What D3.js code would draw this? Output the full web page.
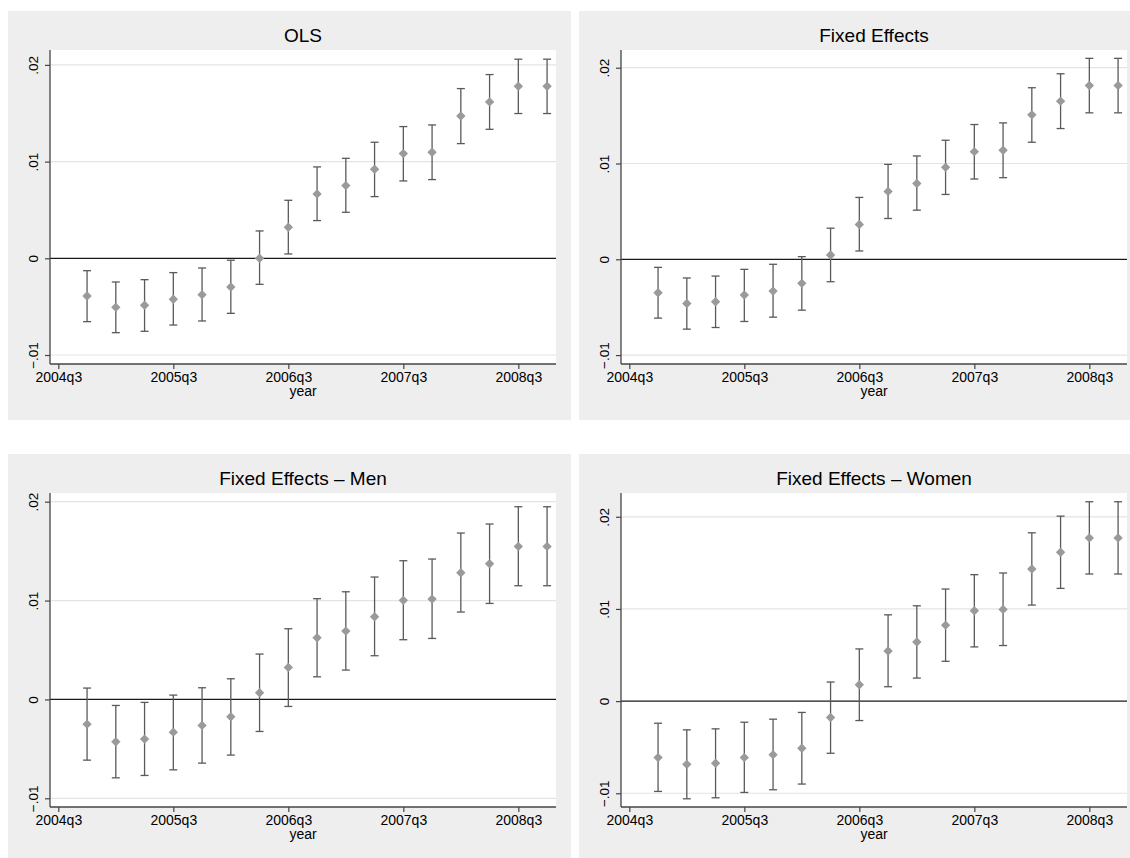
<!DOCTYPE html>
<html>
<head>
<meta charset="utf-8">
<script src="https://cdnjs.cloudflare.com/ajax/libs/d3/7.8.5/d3.min.js"></script>
<style>
  body { margin: 0; background: #fff; }
  text { font-family: "Liberation Sans", Arial, sans-serif; fill: #000; }
</style>
</head>
<body>
<div id="chart"></div>
<script>
(function() {
var WIDTH = 1130;
var HEIGHT = 858;

// quarters 2004q4 .. 2008q4, index 0 = 2004q3
var quarters = [1, 2, 3, 4, 5, 6, 7, 8, 9, 10, 11, 12, 13, 14, 15, 16, 17];
var xTicks = [0, 4, 8, 12, 16];
var xTickLabels = ['2004q3', '2005q3', '2006q3', '2007q3', '2008q3'];
var yTicks = [-0.01, 0, 0.01, 0.02];
var yTickLabels = ['\u2212.01', '0', '.01', '.02'];

var titles = ['OLS', 'Fixed Effects', 'Fixed Effects \u2013 Men', 'Fixed Effects \u2013 Women'];

// point estimates and 95% bounds
var olsCoef = [-0.0039, -0.00507, -0.00486, -0.00424, -0.00376, -0.00297, 0.0000, 0.00321, 0.00666, 0.00752, 0.00921, 0.01083, 0.01097, 0.01472, 0.01617, 0.01779, 0.01779];
var olsHi   = [-0.00128, -0.00245, -0.00221, -0.00148, -0.0010, -0.0002, 0.00283, 0.0060, 0.00945, 0.01034, 0.0120, 0.01362, 0.01379, 0.01755, 0.0190, 0.02059, 0.02059];
var olsLo   = [-0.00655, -0.00769, -0.00755, -0.0069, -0.00648, -0.00569, -0.00269, 0.00045, 0.0039, 0.00476, 0.00638, 0.0080, 0.00814, 0.01186, 0.01334, 0.01497, 0.01497];

var feCoef = [-0.00349, -0.00461, -0.00443, -0.00373, -0.00332, -0.00251, 0.00045, 0.00363, 0.00709, 0.00792, 0.0096, 0.01124, 0.01138, 0.01508, 0.01651, 0.01815, 0.01815];
var feHi   = [-0.00084, -0.00195, -0.00175, -0.00105, -0.00052, 0.00028, 0.00325, 0.00646, 0.00991, 0.01079, 0.01243, 0.01407, 0.01424, 0.01791, 0.01937, 0.02098, 0.02098];
var feLo   = [-0.00614, -0.00729, -0.00712, -0.00649, -0.00604, -0.00531, -0.00234, 0.00087, 0.00426, 0.00513, 0.00677, 0.00838, 0.00852, 0.01222, 0.01365, 0.01529, 0.01529];

var menCoef = [-0.0025, -0.00428, -0.00401, -0.00331, -0.00263, -0.00175, 0.00067, 0.00324, 0.00624, 0.00691, 0.00836, 0.01002, 0.01015, 0.01282, 0.01373, 0.01548, 0.01548];
var menHi   = [0.00115, -0.00061, -0.0003, 0.00044, 0.00118, 0.00209, 0.00459, 0.00715, 0.01019, 0.01089, 0.01238, 0.01403, 0.0142, 0.01683, 0.01774, 0.01949, 0.01949];
var menLo   = [-0.00614, -0.00793, -0.00769, -0.00712, -0.00644, -0.00563, -0.00324, -0.00071, 0.00229, 0.00297, 0.00442, 0.00604, 0.00617, 0.00884, 0.00971, 0.0115, 0.0115];

var womenCoef = [-0.00613, -0.00686, -0.00675, -0.00613, -0.00581, -0.00512, -0.00178, 0.00178, 0.00544, 0.00642, 0.00824, 0.0098, 0.00995, 0.01434, 0.01615, 0.01771, 0.01771];
var womenHi   = [-0.0024, -0.00312, -0.00301, -0.00229, -0.00196, -0.00123, 0.00207, 0.00566, 0.00936, 0.01034, 0.01216, 0.01372, 0.0139, 0.01826, 0.02007, 0.02163, 0.02163];
var womenLo   = [-0.0098, -0.0106, -0.01049, -0.00991, -0.00962, -0.009, -0.00566, -0.00211, 0.00156, 0.0025, 0.00432, 0.00588, 0.00603, 0.01042, 0.01223, 0.01379, 0.01379];

var svg = d3.select('#chart').append('svg')
  .attr('width', WIDTH)
  .attr('height', HEIGHT);

var panels = [
  {ox: 0,   oy: 0,   title: titles[0], coef: olsCoef,   lo: olsLo,   hi: olsHi,   yDom: [-0.01093, 0.02154]},
  {ox: 571, oy: 0,   title: titles[1], coef: feCoef,    lo: feLo,    hi: feHi,    yDom: [-0.01093, 0.02185]},
  {ox: 0,   oy: 443, title: titles[2], coef: menCoef,   lo: menLo,   hi: menHi,   yDom: [-0.01088, 0.02088]},
  {ox: 571, oy: 443, title: titles[3], coef: womenCoef, lo: womenLo, hi: womenHi, yDom: [-0.01149, 0.02258]}
];

panels.forEach(drawPanel);

function drawPanel(p) {
  var g = svg.append('g').attr('transform', 'translate(' + p.ox + ',' + p.oy + ')');
  var left = 50, right = 556, top = 50, bottom = 364;

  g.append('rect')
    .attr('x', 8).attr('y', 11)
    .attr('width', 563).attr('height', 409)
    .attr('fill', '#eeeeee');
  g.append('rect')
    .attr('x', left).attr('y', top)
    .attr('width', right - left).attr('height', bottom - top)
    .attr('fill', '#ffffff');

  var x = d3.scaleLinear().domain([-0.289, 17.31]).range([left, right]);
  var y = d3.scaleLinear().domain(p.yDom).range([bottom, top]);

  // grid lines
  g.append('g').selectAll('line')
    .data(yTicks.filter(function(t) { return t !== 0; }))
    .join('line')
    .attr('x1', left).attr('x2', right)
    .attr('y1', function(d) { return y(d); })
    .attr('y2', function(d) { return y(d); })
    .attr('stroke', '#e4e4e4')
    .attr('stroke-width', 1.2);

  // zero line
  g.append('line')
    .attr('x1', left).attr('x2', right)
    .attr('y1', y(0)).attr('y2', y(0))
    .attr('stroke', '#1a1a1a')
    .attr('stroke-width', 1.3);

  var yAxis = d3.axisLeft(y)
    .tickValues(yTicks)
    .tickSize(5)
    .tickFormat(function(d, i) { return yTickLabels[i]; });
  var ya = g.append('g').attr('transform', 'translate(' + left + ',0)').call(yAxis);
  ya.selectAll('text')
    .attr('transform', 'rotate(-90)')
    .attr('x', 0).attr('y', -12).attr('dy', 0)
    .attr('text-anchor', 'middle')
    .style('font-size', '13.5px');

  var xAxis = d3.axisBottom(x)
    .tickValues(xTicks)
    .tickSize(5)
    .tickFormat(function(d, i) { return xTickLabels[i]; });
  var xa = g.append('g').attr('transform', 'translate(0,' + bottom + ')').call(xAxis);
  xa.selectAll('text').style('font-size', '14px');

  [ya, xa].forEach(function(a) {
    a.select('.domain').attr('stroke', '#444').attr('stroke-width', 1.3);
    a.selectAll('.tick line').attr('stroke', '#444').attr('stroke-width', 1.2);
    a.selectAll('text').attr('font-family', '"Liberation Sans", Arial, sans-serif').attr('fill', '#000');
  });
  // domain paths from d3 have outer ticks of size 5; remove them
  ya.select('.domain').attr('d', 'M0,' + top + 'V' + bottom);
  xa.select('.domain').attr('d', 'M' + left + ',0H' + right);

  // error bars
  var bars = g.append('g').selectAll('g')
    .data(quarters)
    .join('g');
  bars.append('line')
    .attr('x1', function(d) { return x(d); })
    .attr('x2', function(d) { return x(d); })
    .attr('y1', function(d, i) { return y(p.lo[i]); })
    .attr('y2', function(d, i) { return y(p.hi[i]); });
  bars.append('line')
    .attr('x1', function(d) { return x(d) - 4; })
    .attr('x2', function(d) { return x(d) + 4; })
    .attr('y1', function(d, i) { return y(p.hi[i]); })
    .attr('y2', function(d, i) { return y(p.hi[i]); });
  bars.append('line')
    .attr('x1', function(d) { return x(d) - 4; })
    .attr('x2', function(d) { return x(d) + 4; })
    .attr('y1', function(d, i) { return y(p.lo[i]); })
    .attr('y2', function(d, i) { return y(p.lo[i]); });
  bars.selectAll('line')
    .attr('stroke', '#5a5a5a')
    .attr('stroke-width', 1.3);

  // diamonds
  g.append('g').selectAll('path')
    .data(quarters)
    .join('path')
    .attr('d', d3.symbol(d3.symbolSquare, 44))
    .attr('transform', function(d, i) {
      return 'translate(' + x(d) + ',' + y(p.coef[i]) + ') rotate(45)';
    })
    .attr('fill', '#9a9a9a');

  g.append('text')
    .attr('x', (left + right) / 2).attr('y', 42)
    .attr('text-anchor', 'middle')
    .style('font-size', '19px')
    .text(p.title);

  g.append('text')
    .attr('x', (left + right) / 2).attr('y', 396)
    .attr('text-anchor', 'middle')
    .style('font-size', '14px')
    .text('year');
}
})();
</script>
</body>
</html>
